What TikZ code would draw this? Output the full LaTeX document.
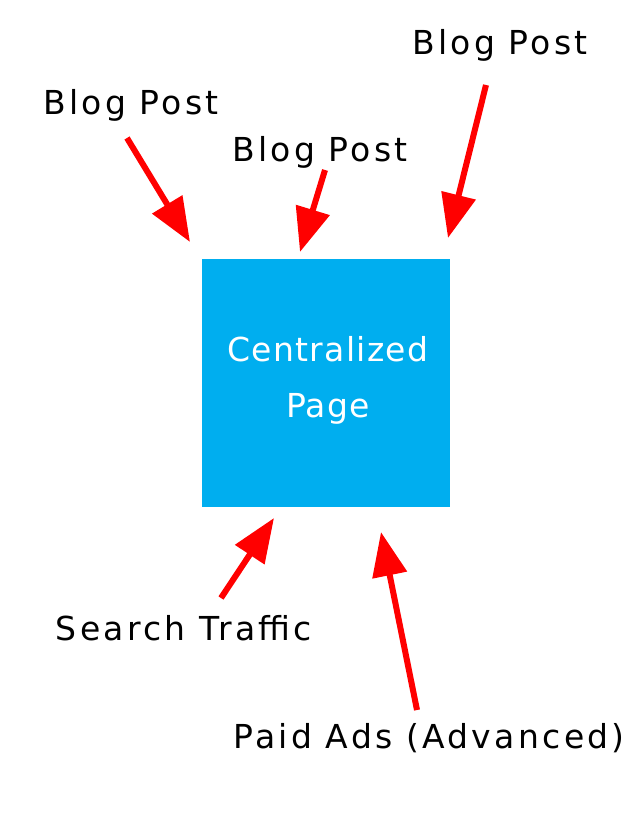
\documentclass[tikz,border=0pt]{standalone}
\usepackage{fontspec}
\setmainfont{DejaVu Sans}[LetterSpace=10]
\newfontfamily\boxfont{DejaVu Sans}[LetterSpace=4]
\usetikzlibrary{arrows.meta}
\definecolor{boxblue}{HTML}{00AEEF}
\definecolor{arrowred}{HTML}{FF0000}
\tikzset{
  lbl/.style={font=\fontsize{33}{40}\selectfont, inner sep=0pt, text=black},
  redarrow/.style={draw=arrowred, line width=6pt, -{Triangle[length=44pt,width=34pt]}},
}
\begin{document}
\begin{tikzpicture}[x=1pt,y=-1pt]
\useasboundingbox (0,0) rectangle (630,840);
\node[fill=boxblue, minimum width=248pt, minimum height=248pt, inner sep=0pt] (page) at (326,383) {};
\node[lbl, font=\boxfont\fontsize{33}{40}\selectfont, text=white, align=center] (pagetxt) at (328,380) {Centralized\\[16pt]Page};
\node[lbl] (bp1) at (131,105) {Blog Post};
\node[lbl] (bp2) at (320,152) {Blog Post};
\node[lbl] (bp3) at (500,45) {Blog Post};
\node[lbl] (st) at (184,628) {Search Traffic};
\node[lbl] (pa) at (429,738) {Paid Ads (Advanced)};
\coordinate (a1s) at (127,138); \coordinate (a1e) at (190,242);
\coordinate (a2s) at (325,170); \coordinate (a2e) at (300,252);
\coordinate (a3s) at (486,85);  \coordinate (a3e) at (448,238);
\coordinate (a4s) at (221,598); \coordinate (a4e) at (274,518);
\coordinate (a5s) at (417,710); \coordinate (a5e) at (381,532);
\draw[redarrow] (a1s) -- (a1e);
\draw[redarrow] (a2s) -- (a2e);
\draw[redarrow] (a3s) -- (a3e);
\draw[redarrow] (a4s) -- (a4e);
\draw[redarrow] (a5s) -- (a5e);
\end{tikzpicture}
\end{document}
